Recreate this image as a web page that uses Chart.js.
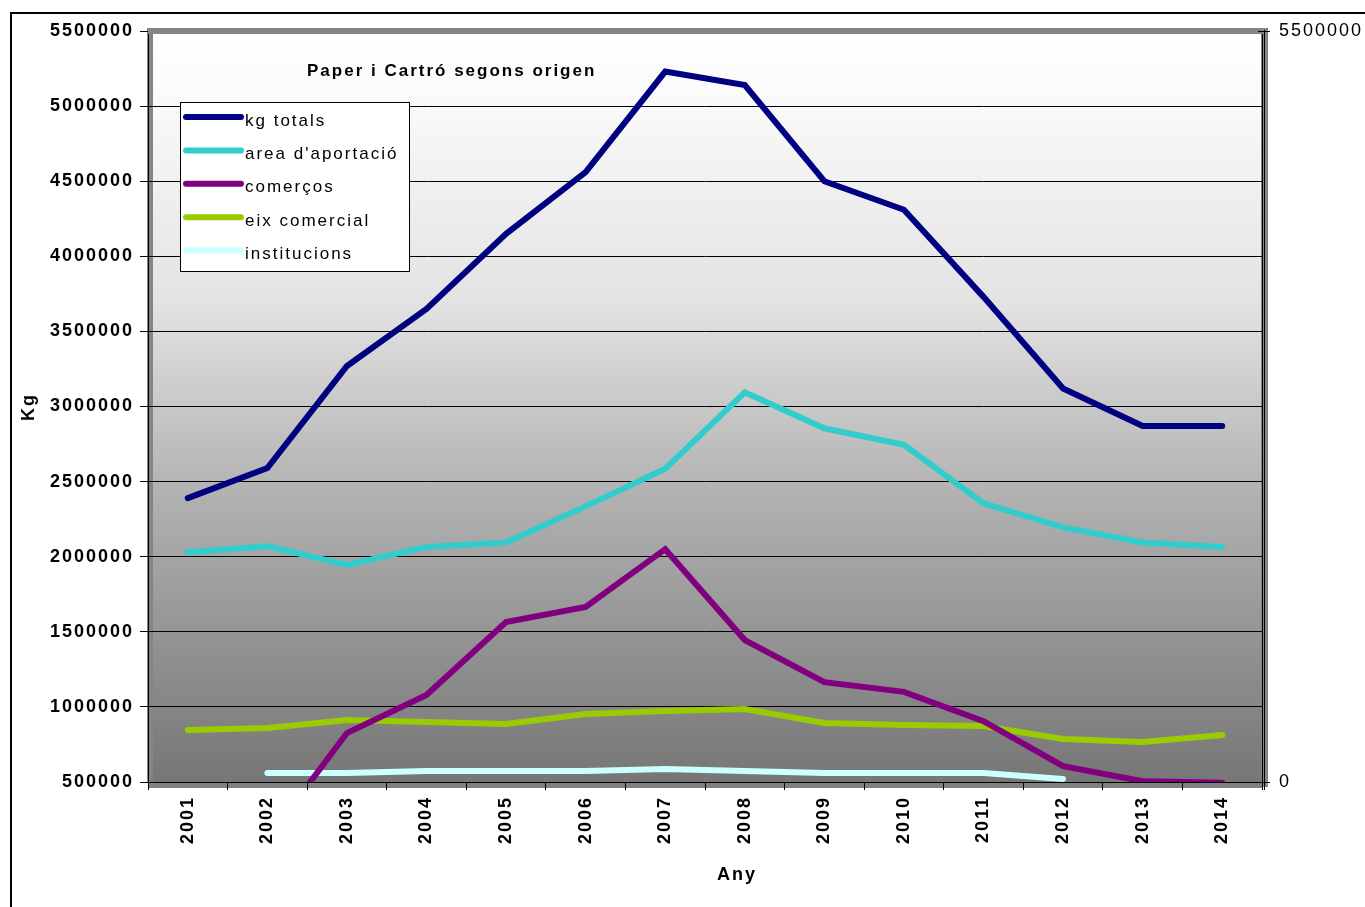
<!DOCTYPE html>
<html><head><meta charset="utf-8">
<script src="https://cdn.jsdelivr.net/npm/chart.js@4.4.1/dist/chart.umd.min.js"></script>
<style>
html,body{margin:0;padding:0;background:#fff;overflow:hidden;}
#wrap{position:relative;width:1365px;height:907px;}
#frame{position:absolute;left:10px;top:12px;width:1365px;height:900px;border-top:2px solid #000;border-left:2px solid #000;pointer-events:none;}
canvas{position:absolute;left:0;top:0;}
</style></head><body>
<div id="wrap"><canvas id="c" width="1365" height="907"></canvas><div id="frame"></div></div>
<script>
const years = ['2001','2002','2003','2004','2005','2006','2007','2008','2009','2010','2011','2012','2013','2014'];
const kgTotals = [2390000, 2590000, 3270000, 3650000, 4150000, 4560000, 5230000, 5140000, 4500000, 4310000, 3730000, 3120000, 2870000, 2870000];
const areaAportacio = [2030000, 2070000, 1945000, 2065000, 2095000, 2335000, 2585000, 3095000, 2855000, 2745000, 2355000, 2195000, 2095000, 2065000];
const comercos = [100000, 120000, 826000, 1080000, 1565000, 1665000, 2050000, 1445000, 1165000, 1100000, 905000, 605000, 505000, 495000];
const eixComercial = [846000, 860000, 913000, 900000, 886000, 953000, 973000, 986000, 893000, 880000, 873000, 786000, 766000, 813000];
const institucions = [null, 560000, 560000, 573000, 573000, 573000, 586000, 573000, 560000, 560000, 560000, 520000, null, null];
const seriesNames = ['kg totals', "area d'aportació", 'comerços', 'eix comercial', 'institucions'];
const seriesColors = ['#000080', '#33CCCC', '#800080', '#99CC00', '#CCFFFF'];
const leftTicksMin = 500000, leftTicksMax = 5500000, leftStep = 500000;
const rightTicksMin = 0, rightTicksMax = 5500000;
const chartTitle = 'Paper i Cartró segons origen';
const yTitle = 'Kg';
const xTitle = 'Any';

const FONT = "'Liberation Sans', Arial, sans-serif";

const seriesData = [kgTotals, areaAportacio, comercos, eixComercial, institucions];
const datasets = seriesData.map((d, i) => ({
  label: seriesNames[i],
  data: d,
  borderColor: seriesColors[i],
  backgroundColor: seriesColors[i],
  borderWidth: 6,
  pointRadius: 0,
  tension: 0,
  borderCapStyle: 'round',
  spanGaps: false,
  clip: 0,
  yAxisID: 'y'
}));

const spacingPlugin = {
  id: 'spacing',
  beforeInit(chart) { chart.ctx.letterSpacing = '2px'; },
  beforeUpdate(chart) { chart.ctx.letterSpacing = '2px'; },
  beforeDraw(chart) {
    const ctx = chart.ctx;
    ctx.letterSpacing = '2px';
    const a = chart.chartArea;
    const g = ctx.createLinearGradient(0, a.top, 0, a.bottom);
    g.addColorStop(0, '#ffffff');
    g.addColorStop(0.09, '#fafafa');
    g.addColorStop(0.36, '#e3e3e3');
    g.addColorStop(0.625, '#b0b0b0');
    g.addColorStop(1, '#767676');
    ctx.save();
    ctx.fillStyle = g;
    ctx.fillRect(a.left, a.top, a.right - a.left, a.bottom - a.top);
    ctx.fillStyle = '#858585';
    ctx.fillRect(a.left - 1, a.top - 3, 6, a.bottom - a.top + 3);
    ctx.fillRect(a.right - 1, a.top - 3, 7, a.bottom - a.top + 8);
    ctx.fillStyle = '#808080';
    ctx.fillRect(a.left, a.bottom, a.right - a.left, 6);
    ctx.fillStyle = 'rgba(120,120,120,0.6)';
    ctx.fillRect(a.left, a.bottom - 4, a.right - a.left, 4);
    ctx.restore();
  },
  beforeDatasetsDraw(chart) {
    const ctx = chart.ctx;
    const a = chart.chartArea;
    ctx.save();
    ctx.fillStyle = '#858585';
    ctx.fillRect(a.left, a.top - 3, a.right - a.left + 6, 6);
    ctx.strokeStyle = '#000';
    ctx.lineWidth = 1;
    ctx.beginPath();
    ctx.moveTo(a.left - 2, a.bottom + 0.5);
    ctx.lineTo(a.right + 6, a.bottom + 0.5);
    ctx.moveTo(a.right + 2.5, a.top - 1);
    ctx.lineTo(a.right + 2.5, a.bottom + 8);
    ctx.moveTo(a.right - 4, a.top + 0.5);
    ctx.lineTo(a.right + 6, a.top + 0.5);
    ctx.stroke();
    ctx.restore();
  },
  afterDatasetsDraw(chart) {
    const ctx = chart.ctx;
    ctx.save();
    ctx.letterSpacing = '2px';
    // legend box
    ctx.fillStyle = '#fff';
    ctx.fillRect(180, 102, 229, 169);
    ctx.strokeStyle = '#000';
    ctx.lineWidth = 1;
    ctx.strokeRect(180.5, 102.5, 229, 169);
    chart.data.datasets.forEach((ds, i) => {
      const ty = 121 + i * 33.4;
      ctx.strokeStyle = ds.borderColor;
      ctx.lineWidth = 6;
      ctx.lineCap = 'round';
      ctx.beginPath();
      ctx.moveTo(186, ty - 4);
      ctx.lineTo(241, ty - 4);
      ctx.stroke();
      ctx.fillStyle = '#000';
      ctx.font = '17px ' + FONT;
      ctx.textBaseline = 'middle';
      ctx.textAlign = 'left';
      ctx.fillText(ds.label, 245, ty);
    });
    // chart title
    ctx.font = 'bold 17px ' + FONT;
    ctx.fillStyle = '#000';
    ctx.textAlign = 'left';
    ctx.textBaseline = 'middle';
    ctx.fillText(chartTitle, 307, 71);
    // axis titles
    ctx.font = 'bold 18px ' + FONT;
    ctx.textAlign = 'center';
    ctx.fillText(xTitle, 737, 875);
    ctx.translate(29, 407);
    ctx.rotate(-Math.PI / 2);
    ctx.fillText(yTitle, 0, 0);
    ctx.restore();
  }
};

new Chart(document.getElementById('c'), {
  type: 'line',
  data: { labels: years, datasets },
  plugins: [spacingPlugin],
  options: {
    responsive: false,
    animation: false,
    layout: { padding: { top: 31, left: 0, right: 0, bottom: 0 } },
    plugins: { legend: { display: false }, tooltip: { enabled: false }, title: { display: false } },
    scales: {
      x: {
        type: 'category',
        offset: true,
        grid: { display: true, drawOnChartArea: false, drawTicks: true, tickLength: 8, color: '#000', offset: true },
        border: { display: true, color: '#000', width: 1 },
        ticks: {
          autoSkip: false, minRotation: 90, maxRotation: 90, padding: 6,
          color: '#000', font: { family: FONT, size: 18, weight: 'bold' }
        },
        afterFit(s) { s.height = 125; }
      },
      y: {
        type: 'linear',
        position: 'left',
        min: leftTicksMin, max: leftTicksMax,
        grid: { color: '#000', lineWidth: 1, tickLength: 8, drawTicks: true },
        border: { display: true, color: '#000' },
        ticks: {
          stepSize: leftStep, padding: 6, color: '#000',
          font: { family: FONT, size: 18, weight: 'bold' },
          callback: v => String(v)
        },
        afterFit(s) { s.width = 148; }
      },
      y2: {
        type: 'linear',
        position: 'right',
        min: rightTicksMin, max: rightTicksMax,
        grid: { drawOnChartArea: false, color: '#000', tickLength: 8 },
        border: { display: true, color: '#000' },
        ticks: {
          stepSize: rightTicksMax, padding: 9, color: '#000',
          font: { family: FONT, size: 18 },
          callback: v => String(v)
        },
        afterFit(s) { s.width = 103; }
      }
    }
  }
});
</script>
</body></html>
